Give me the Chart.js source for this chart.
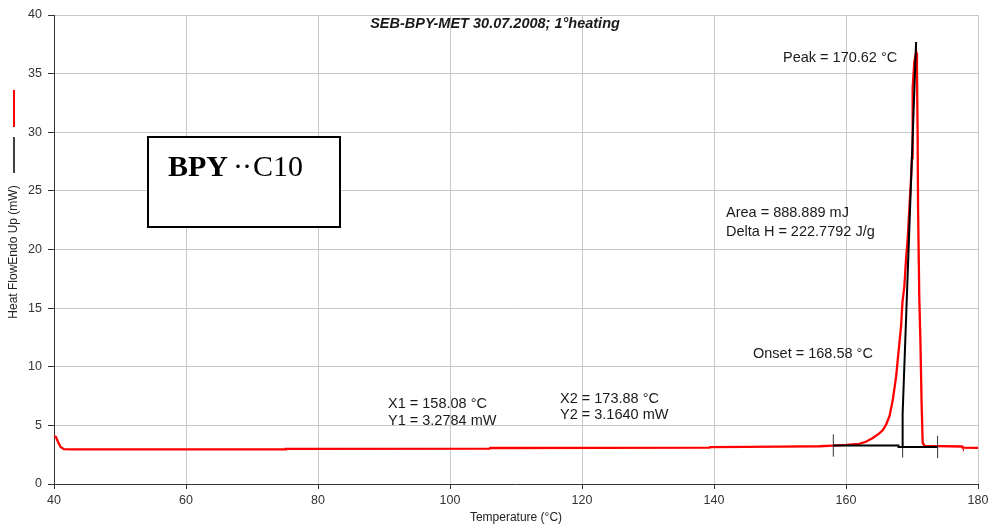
<!DOCTYPE html>
<html>
<head>
<meta charset="utf-8">
<title>SEB-BPY-MET 30.07.2008; 1°heating</title>
<script src="https://cdn.jsdelivr.net/npm/chart.js@4/dist/chart.umd.min.js"></script>
<style>
  html, body { margin: 0; padding: 0; background: #ffffff; }
  canvas { display: block; }
</style>
</head>
<body>
<canvas id="dsc" width="994" height="526"></canvas>
<script>
// DSC heating scan: temperature (°C) vs heat flow (mW, endo up)
const temperature = [
  40.0, 40.3, 40.6, 41.0, 41.5, 42.5, 75.0, 75.1, 106.0, 106.1, 139.3, 139.4,
  150.0, 156.0, 158.0, 160.0, 162.0, 163.0, 164.0, 165.0, 165.6, 166.1, 166.6,
  167.1, 167.6, 168.0, 168.35, 168.55, 168.85, 169.1, 169.35, 169.6, 169.85,
  170.0, 170.1, 170.35, 170.62, 170.75, 170.85, 170.92, 171.1, 171.27, 171.45,
  171.62, 171.9, 177.6, 177.7, 180.0
];
const heatFlow = [
  4.10, 4.00, 3.60, 3.15, 2.97, 2.95, 2.95, 3.00, 3.02, 3.07, 3.10, 3.15,
  3.18, 3.22, 3.28, 3.33, 3.43, 3.60, 3.90, 4.30, 4.60, 5.10, 5.80,
  7.20, 9.20, 11.50, 13.50, 15.50, 16.90, 19.20, 20.90, 23.50, 26.00,
  27.80, 33.80, 36.00, 36.80, 35.50, 30.00, 23.50, 16.00, 12.30, 7.00,
  3.50, 3.25, 3.20, 3.10, 3.08
];

// Integration baseline between X1/Y1 and X2/Y2
const baselineT = [158.08, 167.95, 167.95, 173.88];
const baselineY = [3.2784, 3.2784, 3.164, 3.164];

// Onset tangent up to the peak
const tangentT = [168.58, 168.58, 170.62];
const tangentY = [3.164, 6.0, 37.7];

// Limit markers: X1, onset, X2
const markerT = [158.08, 168.58, 173.88];
const markerLow = [2.33, 2.25, 2.21];
const markerHigh = [4.23, 3.164, 4.11];

const xTicks = [40, 60, 80, 100, 120, 140, 160, 180];
const yTicks = [0, 5, 10, 15, 20, 25, 30, 35, 40];

const toPoints = (xs, ys) => xs.map((x, i) => ({ x: x, y: ys[i] }));

const markerSets = markerT.map((t, i) => ({
  data: [{ x: t, y: markerLow[i] }, { x: t, y: markerHigh[i] }],
  borderColor: '#333333',
  borderWidth: 1,
  showLine: true,
  pointRadius: 0,
  order: 0
}));

const SANS = '"Liberation Sans", Arial, sans-serif';
const SERIF = '"Liberation Serif", "Times New Roman", serif';

const decorations = {
  id: 'decorations',
  beforeDraw(chart) {
    const c = chart.ctx;
    c.save();
    c.fillStyle = '#ffffff';
    c.fillRect(0, 0, chart.width, chart.height);
    c.restore();
  },
  afterDraw(chart) {
    const c = chart.ctx;
    const area = chart.chartArea;
    c.save();

    // title
    c.fillStyle = '#1a1a1a';
    c.font = 'italic bold 14.5px ' + SANS;
    c.textAlign = 'center';
    c.textBaseline = 'middle';
    c.fillText('SEB-BPY-MET 30.07.2008; 1°heating', 495, 24);

    // axis titles
    c.font = '12px ' + SANS;
    c.fillStyle = '#222222';
    c.fillText('Temperature (°C)', (area.left + area.right) / 2, 518);
    c.save();
    c.translate(14, 252);
    c.rotate(-Math.PI / 2);
    c.fillText('Heat FlowEndo Up (mW)', 0, 0);
    c.restore();

    // series keys beside the y title
    c.lineCap = 'butt';
    c.strokeStyle = '#ff0000';
    c.lineWidth = 2;
    c.beginPath(); c.moveTo(14, 90); c.lineTo(14, 127); c.stroke();
    c.strokeStyle = '#000000';
    c.lineWidth = 1.5;
    c.beginPath(); c.moveTo(14, 137); c.lineTo(14, 173); c.stroke();

    // sample box
    c.fillStyle = '#ffffff';
    c.fillRect(148, 137, 192, 90);
    c.strokeStyle = '#000000';
    c.lineWidth = 2;
    c.strokeRect(148, 137, 192, 90);
    c.fillStyle = '#000000';
    c.textAlign = 'left';
    c.textBaseline = 'alphabetic';
    c.font = 'bold 30px ' + SERIF;
    c.fillText('BPY', 168, 176);
    c.font = '30px ' + SERIF;
    c.fillText('·', 233, 176);
    c.fillText('·', 242, 176);
    c.fillText('C10', 253, 176);

    // evaluation results
    c.font = '14.5px ' + SANS;
    c.fillStyle = '#1a1a1a';
    c.textBaseline = 'middle';
    c.fillText('Peak = 170.62 °C', 783, 58);
    c.fillText('Area = 888.889 mJ', 726, 213);
    c.fillText('Delta H = 222.7792 J/g', 726, 232);
    c.fillText('Onset = 168.58 °C', 753, 353.5);
    c.fillText('X1 = 158.08 °C', 388, 403.5);
    c.fillText('Y1 = 3.2784 mW', 388, 421);
    c.fillText('X2 = 173.88 °C', 560, 399);
    c.fillText('Y2 = 3.1640 mW', 560, 414.5);

    c.restore();
  }
};

new Chart(document.getElementById('dsc'), {
  type: 'scatter',
  data: {
    datasets: [
      {
        data: toPoints(baselineT, baselineY),
        borderColor: '#000000',
        borderWidth: 2,
        showLine: true,
        pointRadius: 0,
        order: 0
      },
      {
        data: toPoints(tangentT, tangentY),
        borderColor: '#000000',
        borderWidth: 2,
        showLine: true,
        pointRadius: 0,
        order: 0
      },
      ...markerSets,
      {
        data: toPoints(temperature, heatFlow),
        borderColor: '#ff0000',
        borderWidth: 2.3,
        showLine: true,
        pointRadius: 0,
        tension: 0,
        order: 1
      }
    ]
  },
  options: {
    responsive: false,
    animation: false,
    layout: { padding: { top: 15, right: 16, left: 0, bottom: 0 } },
    plugins: {
      legend: { display: false },
      tooltip: { enabled: false },
      title: { display: false }
    },
    scales: {
      x: {
        type: 'linear',
        min: 40,
        max: 180,
        afterBuildTicks(scale) { scale.ticks = xTicks.map(v => ({ value: v })); },
        afterFit(scale) { scale.height = 42; },
        ticks: {
          color: '#333333',
          font: { family: SANS, size: 12.5 },
          padding: 4,
          maxRotation: 0
        },
        grid: { color: '#c8c8c8', lineWidth: 1, tickLength: 5, tickColor: '#333333' },
        border: { color: '#333333', width: 1 }
      },
      y: {
        type: 'linear',
        min: 0,
        max: 40,
        afterBuildTicks(scale) { scale.ticks = yTicks.map(v => ({ value: v })); },
        afterFit(scale) { scale.width = 54; },
        ticks: {
          color: '#333333',
          font: { family: SANS, size: 12.5 },
          padding: 6
        },
        grid: { color: '#c8c8c8', lineWidth: 1, tickLength: 6, tickColor: '#333333' },
        border: { color: '#333333', width: 1 }
      }
    }
  },
  plugins: [decorations]
});
</script>
</body>
</html>
